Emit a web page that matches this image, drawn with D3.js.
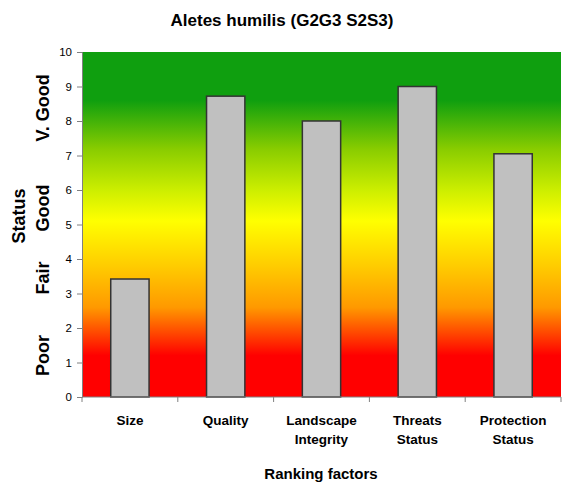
<!DOCTYPE html>
<html>
<head>
<meta charset="utf-8">
<script src="https://cdn.jsdelivr.net/npm/d3@7"></script>
<style>
  html, body { margin: 0; padding: 0; background: #fff; }
  svg { display: block; font-family: Arial, "Liberation Sans", sans-serif; }
</style>
</head>
<body>
<svg id="chart" width="563" height="484"></svg>
<script>
// Ranking factors and their scores
const categories = ["Size", "Quality", "Landscape Integrity", "Threats Status", "Protection Status"];
const categoryLines = [["Size"], ["Quality"], ["Landscape", "Integrity"], ["Threats", "Status"], ["Protection", "Status"]];
const scores = [3.42, 8.72, 8.0, 9.0, 7.05];
const yTicks = [0, 1, 2, 3, 4, 5, 6, 7, 8, 9, 10];
// Status bands placed along the value axis
const statusLabels = ["Poor", "Fair", "Good", "V. Good"];
const statusPositions = [1.2, 3.45, 5.48, 8.38];

const svg = d3.select("#chart");
const margin = { left: 82, right: 2, top: 52, bottom: 87 };
const W = 563, H = 484;

const x = d3.scaleBand().domain(categories).range([margin.left, W - margin.right]).paddingInner(0.6).paddingOuter(0.3);
const y = d3.scaleLinear().domain([0, 10]).range([H - margin.bottom, margin.top]);

// Background gradient: red (poor) through yellow to green (very good)
const defs = svg.append("defs");
const grad = defs.append("linearGradient").attr("id", "bg")
  .attr("x1", 0).attr("y1", 1).attr("x2", 0).attr("y2", 0);
[[0, "#ff0000"], [0.12, "#ff0000"], [0.26, "#ff9900"], [0.38, "#ffcc00"], [0.51, "#ffff00"],
 [0.6, "#ccee00"], [0.72, "#88cc00"], [0.86, "#0f9f0f"], [1, "#0f9f0f"]]
  .forEach(([o, c]) => grad.append("stop").attr("offset", o).attr("stop-color", c));

svg.append("rect")
  .attr("x", margin.left).attr("y", y(10))
  .attr("width", W - margin.right - margin.left).attr("height", y(0) - y(10))
  .attr("fill", "url(#bg)");

// Bars
svg.append("g").selectAll("rect").data(categories).join("rect")
  .attr("x", d => x(d))
  .attr("y", (d, i) => y(scores[i]))
  .attr("width", x.bandwidth())
  .attr("height", (d, i) => y(0) - y(scores[i]))
  .attr("fill", "#c0c0c0")
  .attr("stroke", "#333")
  .attr("stroke-width", 1.5);

// Y axis
const yAxis = svg.append("g").attr("transform", `translate(${margin.left},0)`)
  .call(d3.axisLeft(y).tickValues(yTicks).tickSize(5).tickPadding(5).tickFormat(d3.format("d")));
yAxis.select(".domain").attr("stroke", "#808080");
yAxis.selectAll(".tick line").attr("stroke", "#808080");
yAxis.selectAll("text").attr("font-size", 11.5).attr("fill", "#000").attr("font-family", "Arial, 'Liberation Sans', sans-serif");

// X axis with ticks at band boundaries
const xg = svg.append("g").attr("transform", `translate(0,${y(0)})`);
xg.append("line").attr("x1", margin.left).attr("x2", W - margin.right).attr("stroke", "#808080");
const step = x.step();
const boundaries = categories.map(c => x(c) - (step - x.bandwidth()) / 2).concat([W - margin.right]);
xg.selectAll("line.tk").data(boundaries).join("line").attr("class", "tk")
  .attr("x1", d => d).attr("x2", d => d).attr("y1", 0).attr("y2", 5).attr("stroke", "#808080");

// Category labels
const lab = svg.append("g");
categories.forEach((c, i) => {
  const cx = x(c) + x.bandwidth() / 2;
  const t = lab.append("text")
    .attr("x", cx).attr("y", 425)
    .attr("text-anchor", "middle").attr("font-size", 13.5).attr("font-weight", "bold");
  categoryLines[i].forEach((ln, j) => t.append("tspan").attr("x", cx).attr("dy", j ? 19 : 0).text(ln));
});

// Title and axis titles
svg.append("text").attr("x", 282).attr("y", 26).attr("text-anchor", "middle")
  .attr("font-size", 17).attr("font-weight", "bold").text("Aletes humilis (G2G3 S2S3)");
svg.append("text").attr("x", 321).attr("y", 479).attr("text-anchor", "middle")
  .attr("font-size", 15).attr("font-weight", "bold").text("Ranking factors");
svg.append("text").attr("transform", `translate(25,216) rotate(-90)`).attr("text-anchor", "middle")
  .attr("font-size", 18).attr("font-weight", "bold").text("Status");
statusLabels.forEach((s, i) => {
  svg.append("text").attr("transform", `translate(49,${y(statusPositions[i])}) rotate(-90)`)
    .attr("text-anchor", "middle").attr("font-size", 18).attr("font-weight", "bold").text(s);
});
</script>
</body>
</html>
